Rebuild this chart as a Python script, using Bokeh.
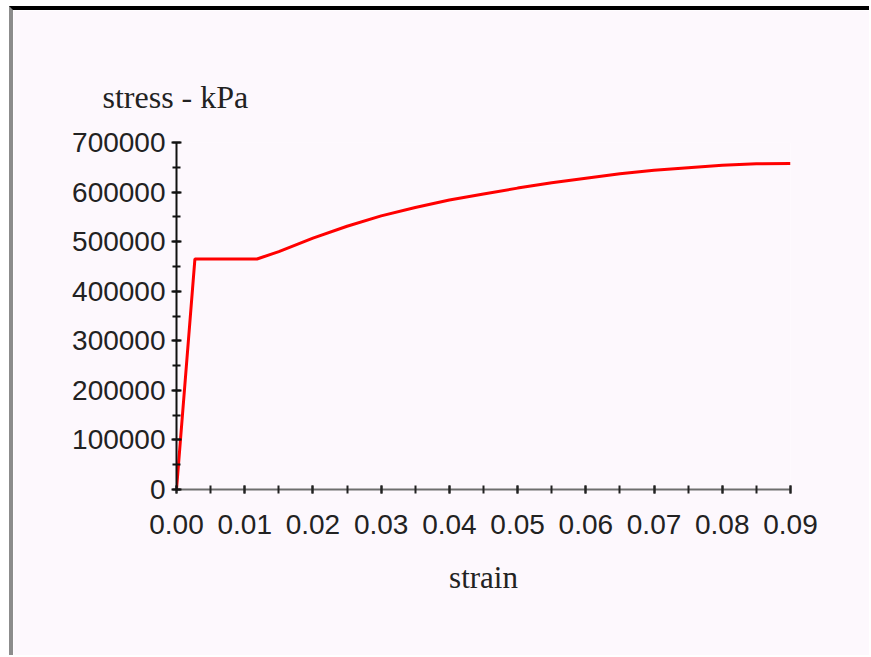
from bokeh.plotting import figure
from bokeh.models import Range1d, SingleIntervalTicker, BasicTickFormatter, NumeralTickFormatter
from bokeh.embed import file_html
from bokeh.resources import INLINE

# data
strain = [0.0, 0.0027, 0.0118, 0.015, 0.02, 0.025, 0.03, 0.035, 0.04, 0.045,
          0.05, 0.055, 0.06, 0.065, 0.07, 0.075, 0.08, 0.085, 0.09]
stress = [0, 465000, 465000, 480000, 507000, 531000, 552000, 569000, 584000, 596000,
          608000, 619000, 628000, 637000, 644000, 649000, 654000, 657000, 657500]

x_label = "strain"
y_label = "stress - kPa"

BG = "#fdf8fd"

p = figure(output_backend="svg", toolbar_location=None,
           frame_width=614, frame_height=347,
           min_border_left=163, min_border_right=79,
           min_border_top=132, min_border_bottom=166,
           x_range=Range1d(0, 0.09 + 1e-9), y_range=Range1d(0, 700000))
p.styles = {"margin-top": "6px", "margin-left": "9px",
            "border-top": "4px solid black", "border-left": "4px solid #8c8c8c"}

p.background_fill_color = BG
p.border_fill_color = BG
p.outline_line_color = None
p.xgrid.visible = False
p.ygrid.visible = False

p.title.text = y_label
p.title.align = "left"
p.title.offset = -74
p.title.standoff = 55
p.title.text_font = "Liberation Serif"
p.title.text_font_size = "32px"
p.title.text_font_style = "normal"
p.title.text_color = "#222222"

p.line(strain, stress, line_color="#ff0000", line_width=3)

# x axis
xa = p.xaxis[0]
xa.ticker = SingleIntervalTicker(interval=0.01, num_minor_ticks=2)
xa.formatter = NumeralTickFormatter(format="0.00")
xa.axis_line_color = "#6e6e6e"
xa.axis_line_width = 2
xa.major_tick_line_color = "#222222"
xa.minor_tick_line_color = "#222222"
xa.major_tick_line_width = 2
xa.minor_tick_line_width = 2
xa.major_tick_in = 4
xa.major_tick_out = 4
xa.minor_tick_in = 4
xa.minor_tick_out = 4
xa.major_label_text_font = "Liberation Sans"
xa.major_label_text_font_size = "28px"
xa.major_label_text_color = "#222222"
xa.major_label_standoff = 21
xa.axis_label = x_label
xa.axis_label_text_font = "Liberation Serif"
xa.axis_label_text_font_size = "31px"
xa.axis_label_text_font_style = "normal"
xa.axis_label_text_color = "#222222"
xa.axis_label_standoff = 23

# y axis
ya = p.yaxis[0]
ya.ticker = SingleIntervalTicker(interval=100000, num_minor_ticks=2)
ya.formatter = BasicTickFormatter(use_scientific=False)
ya.axis_line_color = "#111111"
ya.axis_line_width = 2
ya.major_tick_line_color = "#111111"
ya.minor_tick_line_color = "#111111"
ya.major_tick_line_width = 2
ya.minor_tick_line_width = 2
ya.major_tick_in = 5
ya.major_tick_out = 5
ya.minor_tick_in = 4
ya.minor_tick_out = 4
ya.major_label_text_font = "Liberation Sans"
ya.major_label_text_font_size = "28px"
ya.major_label_text_color = "#222222"
ya.major_label_standoff = 6

open("out.html", "w").write(file_html(p, INLINE))
